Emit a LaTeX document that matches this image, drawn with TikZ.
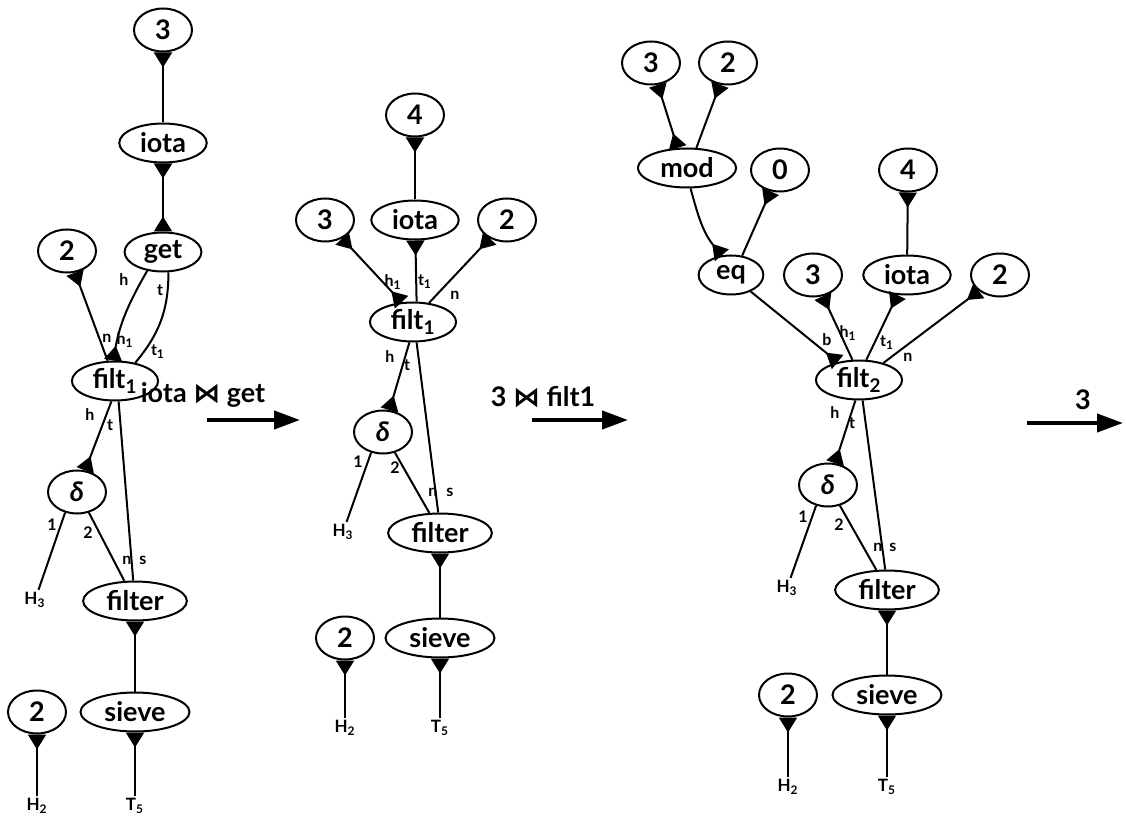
\documentclass[tikz,border=0pt]{standalone}
\usepackage{amsmath,amssymb}
\usepackage{fontspec}
\setmainfont{Lato}
\newfontfamily\symfont{DejaVu Sans}
\usetikzlibrary{arrows.meta,shapes.geometric}

\begin{document}
\begin{tikzpicture}[x=0.5pt,y=0.5pt]
\tikzset{
  agent/.style={ellipse,draw,line width=1pt,inner xsep=4pt,inner ysep=0pt,minimum height=19.5pt,font=\fontsize{13.5}{15}\selectfont\bfseries},
  numnode/.style={agent,minimum width=29pt,minimum height=21.5pt},
  free/.style={inner sep=1pt,font=\fontsize{8.5}{10}\selectfont\bfseries},
  portlabel/.style={inner sep=0pt,font=\fontsize{8}{9}\selectfont\bfseries},
  wire/.style={line width=1pt},
  pp/.style={wire,{Triangle[reversed,length=7.5pt,width=9pt]}-},
  ppe/.style={wire,-{Triangle[reversed,length=7.5pt,width=9pt]}},
  pp2/.style={wire,{Triangle[reversed,length=7.5pt,width=9pt]}-{Triangle[reversed,length=7.5pt,width=9pt]}},
  rewrite/.style={line width=2pt,-{Triangle[length=13pt,width=9pt]}},
  rulelabel/.style={font=\fontsize{13.5}{15}\selectfont\bfseries}
}
\useasboundingbox (0,0) rectangle (1126,-824);
% first net
\node[numnode] (n_a3) at (163,-30) {3};
\node[agent] (n_aiota) at (163,-143) {iota};
\node[agent] (n_aget) at (163,-252) {get};
\node[numnode] (n_a2) at (67,-251) {2};
\node[agent] (n_afilt) at (115,-381) {filt\textsubscript{1}};
\node[numnode] (n_adelta) at (77,-492) {\itshape δ};
\node[free] (n_aH3) at (35,-600) {H\textsubscript{3}};
\node[agent] (n_afilter) at (135,-601) {filter};
\node[numnode] (n_a2b) at (37,-712) {2};
\node[agent] (n_asieve) at (135,-712) {sieve};
\node[free] (n_aH2) at (37,-806) {H\textsubscript{2}};
\node[free] (n_aT5) at (135,-806) {T\textsubscript{5}};
\draw[pp] (n_a3) -- (n_aiota);
\draw[pp2] (n_aiota) -- (n_aget);
\draw[ppe] (n_aget.-130) to[out=-120,in=80] (n_afilt.95);
\draw[wire] (n_aget.-75) to[out=-90,in=50] (n_afilt.42);
\draw[pp] (n_a2) -- (n_afilt.110);
\draw[ppe] (n_afilt.-100) -- (n_adelta);
\draw[wire] (n_afilt.-80) -- (n_afilter.95);
\draw[wire] (n_adelta.-120) -- (n_aH3);
\draw[wire] (n_adelta.-60) -- (n_afilter.118);
\draw[pp] (n_afilter) -- (n_asieve);
\draw[pp] (n_asieve) -- (n_aT5);
\draw[pp] (n_a2b) -- (n_aH2);
\node[portlabel] (p_ah) at (124,-280) {h};
\node[portlabel] (p_at) at (160,-290) {t};
\node[portlabel] (p_an) at (107,-338) {n};
\node[portlabel] (p_ah1) at (125,-340) {h\textsubscript{1}};
\node[portlabel] (p_at1) at (158,-352) {t\textsubscript{1}};
\node[portlabel] (p_aho) at (90,-415) {h};
\node[portlabel] (p_ato) at (110,-425) {t};
\node[portlabel] (p_a1) at (52,-525) {1};
\node[portlabel] (p_a2) at (88,-533) {2};
\node[portlabel] (p_ann) at (127,-560) {n};
\node[portlabel] (p_as) at (143,-560) {s};
% first step
\node[rulelabel] (r_1) at (203,-395) {iota {\symfont\bfseries ⋈} get};
\coordinate (r_1a) at (207,-420);
\coordinate (r_1b) at (300,-420);
\draw[rewrite] (r_1a) -- (r_1b);
% second net
\node[numnode] (n_b4) at (415,-115) {4};
\node[agent] (n_biota) at (415,-220) {iota};
\node[numnode] (n_b3) at (325,-220) {3};
\node[numnode] (n_b2) at (507,-220) {2};
\node[agent] (n_bfilt) at (413,-322) {filt\textsubscript{1}};
\node[numnode] (n_bdelta) at (383,-432) {\itshape δ};
\node[free] (n_bH3) at (343,-532) {H\textsubscript{3}};
\node[agent] (n_bfilter) at (440,-533) {filter};
\node[numnode] (n_b2b) at (345,-638) {2};
\node[agent] (n_bsieve) at (440,-638) {sieve};
\node[free] (n_bH2) at (345,-728) {H\textsubscript{2}};
\node[free] (n_bT5) at (440,-728) {T\textsubscript{5}};
\draw[pp] (n_b4) -- (n_biota);
\draw[pp] (n_biota) -- (n_bfilt.80);
\draw[pp2] (n_b3) -- (n_bfilt.120);
\draw[pp] (n_b2) -- (n_bfilt.50);
\draw[ppe] (n_bfilt.-100) -- (n_bdelta);
\draw[wire] (n_bfilt.-80) -- (n_bfilter.95);
\draw[wire] (n_bdelta.-120) -- (n_bH3);
\draw[wire] (n_bdelta.-60) -- (n_bfilter.118);
\draw[pp] (n_bfilter) -- (n_bsieve);
\draw[pp] (n_bsieve) -- (n_bT5);
\draw[pp] (n_b2b) -- (n_bH2);
\node[portlabel] (p_bh1) at (393,-282) {h\textsubscript{1}};
\node[portlabel] (p_bt1) at (425,-282) {t\textsubscript{1}};
\node[portlabel] (p_bn) at (455,-295) {n};
\node[portlabel] (p_bho) at (390,-357) {h};
\node[portlabel] (p_bto) at (407,-365) {t};
\node[portlabel] (p_b1) at (358,-462) {1};
\node[portlabel] (p_b2) at (395,-468) {2};
\node[portlabel] (p_bnn) at (433,-492) {n};
\node[portlabel] (p_bs) at (450,-492) {s};
% second step
\node[rulelabel] (r_2) at (543,-397) {3 {\symfont\bfseries ⋈} filt1};
\coordinate (r_2a) at (532,-420);
\coordinate (r_2b) at (628,-420);
\draw[rewrite] (r_2a) -- (r_2b);
% third net
\node[numnode] (n_c3a) at (651,-63) {3};
\node[numnode] (n_c2a) at (728,-63) {2};
\node[agent] (n_cmod) at (687,-168) {mod};
\node[numnode] (n_c0) at (780,-170) {0};
\node[numnode] (n_c4) at (908,-170) {4};
\node[agent] (n_ceq) at (731,-275) {eq};
\node[numnode] (n_c3b) at (813,-275) {3};
\node[agent] (n_ciota) at (907,-275) {iota};
\node[numnode] (n_c2b) at (1000,-275) {2};
\node[agent] (n_cfilt) at (859,-380) {filt\textsubscript{2}};
\node[numnode] (n_cdelta) at (828,-485) {\itshape δ};
\node[free] (n_cH3) at (787,-588) {H\textsubscript{3}};
\node[agent] (n_cfilter) at (887,-590) {filter};
\node[numnode] (n_c2c) at (788,-695) {2};
\node[agent] (n_csieve) at (887,-695) {sieve};
\node[free] (n_cH2) at (788,-787) {H\textsubscript{2}};
\node[free] (n_cT5) at (887,-787) {T\textsubscript{5}};
\draw[pp2] (n_c3a) -- (n_cmod.115);
\draw[pp] (n_c2a) -- (n_cmod.65);
\draw[ppe] (n_cmod.-80) to[out=-75,in=130] (n_ceq.115);
\draw[pp] (n_c0) -- (n_ceq.60);
\draw[pp] (n_c4) -- (n_ciota);
\draw[ppe] (n_ceq.-40) -- (n_cfilt.140);
\draw[pp] (n_c3b) -- (n_cfilt.108);
\draw[pp] (n_ciota) -- (n_cfilt.70);
\draw[pp] (n_c2b) -- (n_cfilt.35);
\draw[ppe] (n_cfilt.-100) -- (n_cdelta);
\draw[wire] (n_cfilt.-80) -- (n_cfilter.95);
\draw[wire] (n_cdelta.-120) -- (n_cH3);
\draw[wire] (n_cdelta.-60) -- (n_cfilter.118);
\draw[pp] (n_cfilter) -- (n_csieve);
\draw[pp] (n_csieve) -- (n_cT5);
\draw[pp] (n_c2c) -- (n_cH2);
\node[portlabel] (p_cb) at (827,-340) {b};
\node[portlabel] (p_ch1) at (848,-333) {h\textsubscript{1}};
\node[portlabel] (p_ct1) at (887,-343) {t\textsubscript{1}};
\node[portlabel] (p_cn) at (908,-357) {n};
\node[portlabel] (p_cho) at (835,-413) {h};
\node[portlabel] (p_cto) at (852,-423) {t};
\node[portlabel] (p_c1) at (803,-517) {1};
\node[portlabel] (p_c2) at (839,-525) {2};
\node[portlabel] (p_cnn) at (878,-547) {n};
\node[portlabel] (p_cs) at (893,-547) {s};
% third step
\node[rulelabel] (r_3) at (1083,-400) {3};
\coordinate (r_3a) at (1027,-423);
\coordinate (r_3b) at (1123,-423);
\draw[rewrite] (r_3a) -- (r_3b);
\end{tikzpicture}
\end{document}
